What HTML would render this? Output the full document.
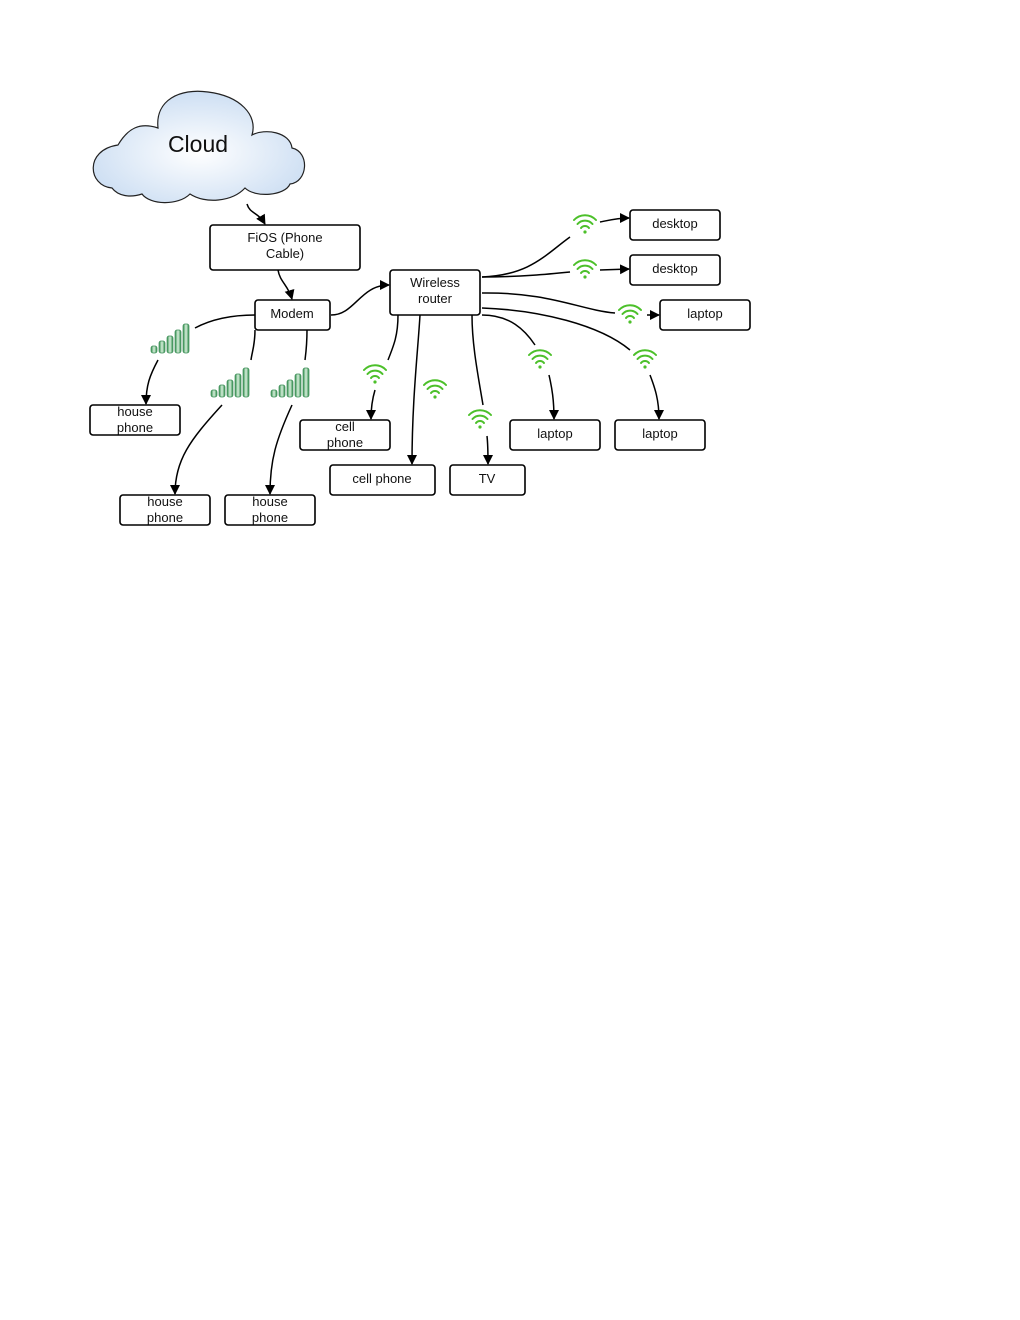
<!DOCTYPE html>
<html><head><meta charset="utf-8"><style>
html,body{margin:0;padding:0;background:#fff;}
svg{display:block;}
text{font-family:"Liberation Sans",sans-serif;font-size:13px;fill:#111;}
</style></head><body>
<svg width="1020" height="1320" viewBox="0 0 1020 1320" xmlns="http://www.w3.org/2000/svg">
<defs>
<marker id="a" markerWidth="10" markerHeight="10" refX="9" refY="5" orient="auto" markerUnits="userSpaceOnUse">
<path d="M0,0 L10,5 L0,10 z" fill="#000"/></marker>
<radialGradient id="cg" cx="0.5" cy="0.55" r="0.6">
<stop offset="0" stop-color="#ffffff"/><stop offset="1" stop-color="#c9dcf2"/></radialGradient>
<linearGradient id="bg" x1="0" y1="0" x2="1" y2="0">
<stop offset="0" stop-color="#2e8b4a"/><stop offset="0.5" stop-color="#d8f0dc"/><stop offset="1" stop-color="#2e8b4a"/></linearGradient>
<g id="wifi" fill="none" stroke="#4cc02a" stroke-width="2" stroke-linecap="round">
<path d="M-11,-5 A15,15 0 0 1 11,-5"/><path d="M-7.5,-1 A10,10 0 0 1 7.5,-1"/><path d="M-4,3 A5,5 0 0 1 4,3"/>
<circle cx="0" cy="7" r="1.6" fill="#4cc02a" stroke="none"/></g>
<g id="sig" fill="url(#bg)" stroke="#3a8c55" stroke-width="0.7">
<rect x="-21" y="6" width="6" height="7" rx="2"/><rect x="-13" y="1" width="6" height="12" rx="2"/>
<rect x="-5" y="-4" width="6" height="17" rx="2"/><rect x="3" y="-10" width="6" height="23" rx="2"/>
<rect x="11" y="-16" width="6" height="29" rx="2"/></g>
</defs>

<path d="M112,188 C88,186 84,150 118,145 C128,128 140,122 158,128 C155,100 180,88 208,92 C240,96 258,115 252,135 C265,128 290,132 292,148 C310,152 308,182 290,184 C285,196 255,198 245,188 C232,202 205,204 190,194 C178,206 150,205 142,194 C130,198 118,196 112,188 z" fill="url(#cg)" stroke="#222" stroke-width="1.2"/>
<text x="198" y="152" text-anchor="middle" style="font-size:23px">Cloud</text>

<g fill="none" stroke="#000" stroke-width="1.5">
<path d="M247,204 C250,214 258,212 265,224" marker-end="url(#a)"/>
<path d="M278,270 C280,282 288,285 292,299" marker-end="url(#a)"/>
<path d="M331,315 C355,315 360,285 389,285" marker-end="url(#a)"/>
<path d="M255,315 C230,315 210,320 195,328"/>
<path d="M158,360 C150,375 146,385 146,404" marker-end="url(#a)"/>
<path d="M255,330 C255,345 252,352 251,360"/>
<path d="M222,405 C190,440 175,460 175,494" marker-end="url(#a)"/>
<path d="M307,330 C307,345 306,352 305,360"/>
<path d="M292,405 C276,440 270,460 270,494" marker-end="url(#a)"/>
<path d="M482,277 C530,275 545,255 570,237"/>
<path d="M600,222 C610,220 618,218 629,218" marker-end="url(#a)"/>
<path d="M482,277 C520,277 550,274 570,272"/>
<path d="M600,270 L629,269" marker-end="url(#a)"/>
<path d="M482,293 C550,292 580,310 615,313"/>
<path d="M647,315 L659,315" marker-end="url(#a)"/>
<path d="M482,308 C540,310 600,325 630,350"/>
<path d="M650,375 C655,388 659,400 659,419" marker-end="url(#a)"/>
<path d="M482,315 C510,315 525,330 535,345"/>
<path d="M549,375 C552,388 554,400 554,419" marker-end="url(#a)"/>
<path d="M472,315 C472,345 478,375 483,405"/>
<path d="M487,436 C488,445 488,455 488,464" marker-end="url(#a)"/>
<path d="M420,315 C418,350 412,400 412,464" marker-end="url(#a)"/>
<path d="M398,315 C398,335 394,345 388,360"/>
<path d="M375,390 C372,400 371,408 371,419" marker-end="url(#a)"/>
</g>

<g fill="#fff" stroke="#000" stroke-width="1.6">
<rect x="210" y="225" width="150" height="45" rx="3"/>
<rect x="255" y="300" width="75" height="30" rx="3"/>
<rect x="390" y="270" width="90" height="45" rx="3"/>
<rect x="630" y="210" width="90" height="30" rx="3"/>
<rect x="630" y="255" width="90" height="30" rx="3"/>
<rect x="660" y="300" width="90" height="30" rx="3"/>
<rect x="510" y="420" width="90" height="30" rx="3"/>
<rect x="615" y="420" width="90" height="30" rx="3"/>
<rect x="450" y="465" width="75" height="30" rx="3"/>
<rect x="330" y="465" width="105" height="30" rx="3"/>
<rect x="300" y="420" width="90" height="30" rx="3"/>
<rect x="90" y="405" width="90" height="30" rx="3"/>
<rect x="120" y="495" width="90" height="30" rx="3"/>
<rect x="225" y="495" width="90" height="30" rx="3"/>
</g>

<g text-anchor="middle">
<text x="285" y="242">FiOS (Phone</text><text x="285" y="258">Cable)</text>
<text x="292" y="318">Modem</text>
<text x="435" y="287">Wireless</text><text x="435" y="303">router</text>
<text x="675" y="228">desktop</text>
<text x="675" y="273">desktop</text>
<text x="705" y="318">laptop</text>
<text x="555" y="438">laptop</text>
<text x="660" y="438">laptop</text>
<text x="487" y="483">TV</text>
<text x="382" y="483">cell phone</text>
<text x="345" y="431">cell</text><text x="345" y="447">phone</text>
<text x="135" y="416">house</text><text x="135" y="432">phone</text>
<text x="165" y="506">house</text><text x="165" y="522">phone</text>
<text x="270" y="506">house</text><text x="270" y="522">phone</text>
</g>

<use href="#wifi" x="585" y="225"/>
<use href="#wifi" x="585" y="270"/>
<use href="#wifi" x="630" y="315"/>
<use href="#wifi" x="540" y="360"/>
<use href="#wifi" x="645" y="360"/>
<use href="#wifi" x="375" y="375"/>
<use href="#wifi" x="435" y="390"/>
<use href="#wifi" x="480" y="420"/>
<use href="#sig" x="172" y="340"/>
<use href="#sig" x="232" y="384"/>
<use href="#sig" x="292" y="384"/>
</svg>
</body></html>
